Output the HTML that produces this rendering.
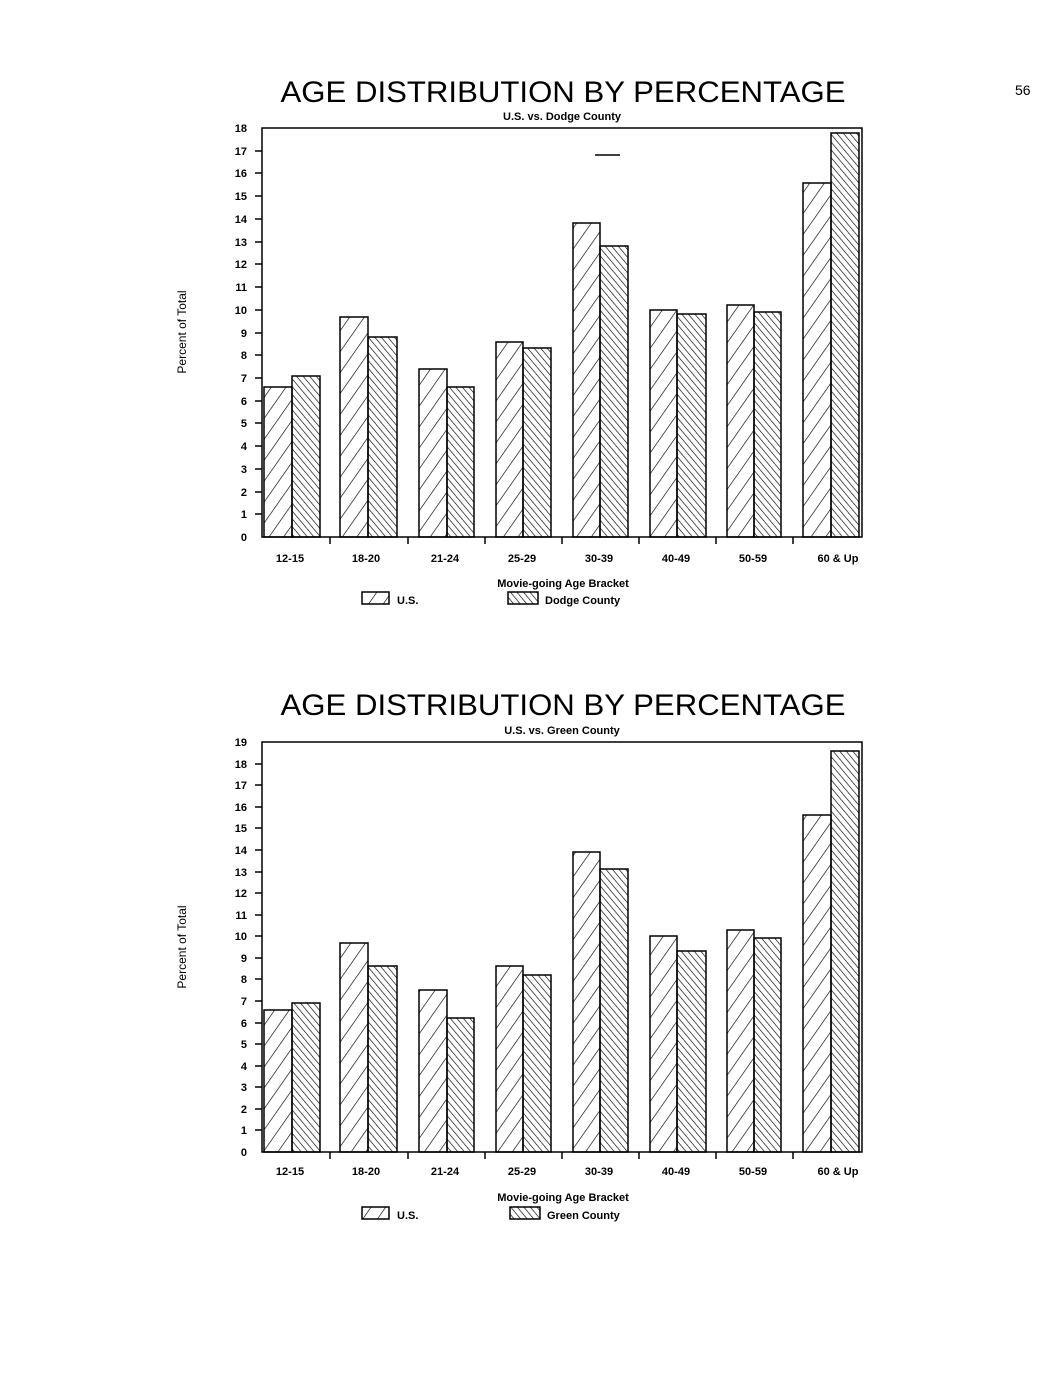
<!DOCTYPE html>
<html><head><meta charset="utf-8"><style>
html,body{margin:0;padding:0;background:#fff;}
svg{display:block;}
text{font-family:"Liberation Sans",sans-serif;fill:#000;}
</style></head><body>
<svg width="1062" height="1380" viewBox="0 0 1062 1380" xmlns="http://www.w3.org/2000/svg">
<defs>
<pattern id="us" patternUnits="userSpaceOnUse" width="9" height="14" patternTransform="skewX(-33)">
<line x1="0" y1="0" x2="0" y2="14" stroke="#000" stroke-width="1.3"/>
</pattern>
<pattern id="us2" patternUnits="userSpaceOnUse" width="12" height="12" patternTransform="rotate(35)">
<line x1="0" y1="0" x2="0" y2="12" stroke="#000" stroke-width="1.3"/>
</pattern>
<pattern id="co" patternUnits="userSpaceOnUse" width="5" height="10" patternTransform="rotate(-40)">
<line x1="0" y1="0" x2="0" y2="10" stroke="#000" stroke-width="1.3"/>
</pattern>
</defs>
<text x="1015" y="95" font-size="14" font-family="DejaVu Sans">56</text>

<!-- Chart 1 -->
<text x="563" y="102" font-size="30" text-anchor="middle" textLength="565" lengthAdjust="spacingAndGlyphs">AGE DISTRIBUTION BY PERCENTAGE</text>
<text x="562" y="120" font-size="11" font-weight="bold" text-anchor="middle">U.S. vs. Dodge County</text>
<rect x="262" y="128" width="600" height="409" fill="none" stroke="#000" stroke-width="1.5"/>
<line x1="595" y1="155" x2="620" y2="155" stroke="#000" stroke-width="1.5"/>
<g font-size="11" text-anchor="end" font-weight="bold">
<text x="247" y="541">0</text><text x="247" y="518">1</text><text x="247" y="496">2</text><text x="247" y="473">3</text><text x="247" y="450">4</text><text x="247" y="427">5</text><text x="247" y="405">6</text><text x="247" y="382">7</text><text x="247" y="359">8</text><text x="247" y="337">9</text><text x="247" y="314">10</text><text x="247" y="291">11</text><text x="247" y="268">12</text><text x="247" y="246">13</text><text x="247" y="223">14</text><text x="247" y="200">15</text><text x="247" y="177">16</text><text x="247" y="155">17</text><text x="247" y="132">18</text>
</g>
<g stroke="#000" stroke-width="1.5">
<line x1="255" y1="514" x2="262" y2="514"/><line x1="255" y1="492" x2="262" y2="492"/><line x1="255" y1="469" x2="262" y2="469"/><line x1="255" y1="446" x2="262" y2="446"/><line x1="255" y1="423" x2="262" y2="423"/><line x1="255" y1="401" x2="262" y2="401"/><line x1="255" y1="378" x2="262" y2="378"/><line x1="255" y1="355" x2="262" y2="355"/><line x1="255" y1="333" x2="262" y2="333"/><line x1="255" y1="310" x2="262" y2="310"/><line x1="255" y1="287" x2="262" y2="287"/><line x1="255" y1="264" x2="262" y2="264"/><line x1="255" y1="242" x2="262" y2="242"/><line x1="255" y1="219" x2="262" y2="219"/><line x1="255" y1="196" x2="262" y2="196"/><line x1="255" y1="173" x2="262" y2="173"/><line x1="255" y1="151" x2="262" y2="151"/>
<line x1="330" y1="537" x2="330" y2="544"/><line x1="408" y1="537" x2="408" y2="544"/><line x1="485" y1="537" x2="485" y2="544"/><line x1="562" y1="537" x2="562" y2="544"/><line x1="639" y1="537" x2="639" y2="544"/><line x1="716" y1="537" x2="716" y2="544"/><line x1="793" y1="537" x2="793" y2="544"/>
</g>
<g stroke="#000" stroke-width="1.5">
<rect x="264" y="387" width="28" height="150" fill="url(#us2)"/><rect x="292" y="376" width="28" height="161" fill="url(#co)"/>
<rect x="340" y="317" width="28" height="220" fill="url(#us2)"/><rect x="368" y="337" width="29" height="200" fill="url(#co)"/>
<rect x="419" y="369" width="28" height="168" fill="url(#us2)"/><rect x="447" y="387" width="27" height="150" fill="url(#co)"/>
<rect x="496" y="342" width="27" height="195" fill="url(#us2)"/><rect x="523" y="348" width="28" height="189" fill="url(#co)"/>
<rect x="573" y="223" width="27" height="314" fill="url(#us2)"/><rect x="600" y="246" width="28" height="291" fill="url(#co)"/>
<rect x="650" y="310" width="27" height="227" fill="url(#us2)"/><rect x="677" y="314" width="29" height="223" fill="url(#co)"/>
<rect x="727" y="305" width="27" height="232" fill="url(#us2)"/><rect x="754" y="312" width="27" height="225" fill="url(#co)"/>
<rect x="803" y="183" width="28" height="354" fill="url(#us2)"/><rect x="831" y="133" width="28" height="404" fill="url(#co)"/>
</g>
<g font-size="11" font-weight="bold" text-anchor="middle">
<text x="290" y="562">12-15</text><text x="366" y="562">18-20</text><text x="445" y="562">21-24</text><text x="522" y="562">25-29</text><text x="599" y="562">30-39</text><text x="676" y="562">40-49</text><text x="753" y="562">50-59</text><text x="838" y="562">60 &amp; Up</text>
</g>
<text x="563" y="587" font-size="11" font-weight="bold" text-anchor="middle">Movie-going Age Bracket</text>
<rect x="362" y="592" width="27" height="12" fill="url(#us2)" stroke="#000" stroke-width="1.5"/>
<text x="397" y="604" font-size="11" font-weight="bold">U.S.</text>
<rect x="508" y="592" width="30" height="12" fill="url(#co)" stroke="#000" stroke-width="1.5"/>
<text x="545" y="604" font-size="11" font-weight="bold">Dodge County</text>
<text transform="translate(186,332) rotate(-90)" font-size="12" text-anchor="middle">Percent of Total</text>

<!-- Chart 2 -->
<text x="563" y="715" font-size="30" text-anchor="middle" textLength="565" lengthAdjust="spacingAndGlyphs">AGE DISTRIBUTION BY PERCENTAGE</text>
<text x="562" y="734" font-size="11" font-weight="bold" text-anchor="middle">U.S. vs. Green County</text>
<rect x="262" y="742" width="600" height="410" fill="none" stroke="#000" stroke-width="1.5"/>
<g font-size="11" text-anchor="end" font-weight="bold">
<text x="247" y="1156">0</text><text x="247" y="1134">1</text><text x="247" y="1113">2</text><text x="247" y="1091">3</text><text x="247" y="1070">4</text><text x="247" y="1048">5</text><text x="247" y="1027">6</text><text x="247" y="1005">7</text><text x="247" y="983">8</text><text x="247" y="962">9</text><text x="247" y="940">10</text><text x="247" y="919">11</text><text x="247" y="897">12</text><text x="247" y="876">13</text><text x="247" y="854">14</text><text x="247" y="832">15</text><text x="247" y="811">16</text><text x="247" y="789">17</text><text x="247" y="768">18</text><text x="247" y="746">19</text>
</g>
<g stroke="#000" stroke-width="1.5">
<line x1="255" y1="1130" x2="262" y2="1130"/><line x1="255" y1="1109" x2="262" y2="1109"/><line x1="255" y1="1087" x2="262" y2="1087"/><line x1="255" y1="1066" x2="262" y2="1066"/><line x1="255" y1="1044" x2="262" y2="1044"/><line x1="255" y1="1023" x2="262" y2="1023"/><line x1="255" y1="1001" x2="262" y2="1001"/><line x1="255" y1="979" x2="262" y2="979"/><line x1="255" y1="958" x2="262" y2="958"/><line x1="255" y1="936" x2="262" y2="936"/><line x1="255" y1="915" x2="262" y2="915"/><line x1="255" y1="893" x2="262" y2="893"/><line x1="255" y1="872" x2="262" y2="872"/><line x1="255" y1="850" x2="262" y2="850"/><line x1="255" y1="828" x2="262" y2="828"/><line x1="255" y1="807" x2="262" y2="807"/><line x1="255" y1="785" x2="262" y2="785"/><line x1="255" y1="764" x2="262" y2="764"/>
<line x1="330" y1="1152" x2="330" y2="1159"/><line x1="408" y1="1152" x2="408" y2="1159"/><line x1="485" y1="1152" x2="485" y2="1159"/><line x1="562" y1="1152" x2="562" y2="1159"/><line x1="639" y1="1152" x2="639" y2="1159"/><line x1="716" y1="1152" x2="716" y2="1159"/><line x1="793" y1="1152" x2="793" y2="1159"/>
</g>
<g stroke="#000" stroke-width="1.5">
<rect x="264" y="1010" width="28" height="142" fill="url(#us2)"/><rect x="292" y="1003" width="28" height="149" fill="url(#co)"/>
<rect x="340" y="943" width="28" height="209" fill="url(#us2)"/><rect x="368" y="966" width="29" height="186" fill="url(#co)"/>
<rect x="419" y="990" width="28" height="162" fill="url(#us2)"/><rect x="447" y="1018" width="27" height="134" fill="url(#co)"/>
<rect x="496" y="966" width="27" height="186" fill="url(#us2)"/><rect x="523" y="975" width="28" height="177" fill="url(#co)"/>
<rect x="573" y="852" width="27" height="300" fill="url(#us2)"/><rect x="600" y="869" width="28" height="283" fill="url(#co)"/>
<rect x="650" y="936" width="27" height="216" fill="url(#us2)"/><rect x="677" y="951" width="29" height="201" fill="url(#co)"/>
<rect x="727" y="930" width="27" height="222" fill="url(#us2)"/><rect x="754" y="938" width="27" height="214" fill="url(#co)"/>
<rect x="803" y="815" width="28" height="337" fill="url(#us2)"/><rect x="831" y="751" width="28" height="401" fill="url(#co)"/>
</g>
<g font-size="11" font-weight="bold" text-anchor="middle">
<text x="290" y="1175">12-15</text><text x="366" y="1175">18-20</text><text x="445" y="1175">21-24</text><text x="522" y="1175">25-29</text><text x="599" y="1175">30-39</text><text x="676" y="1175">40-49</text><text x="753" y="1175">50-59</text><text x="838" y="1175">60 &amp; Up</text>
</g>
<text x="563" y="1201" font-size="11" font-weight="bold" text-anchor="middle">Movie-going Age Bracket</text>
<rect x="362" y="1207" width="27" height="12" fill="url(#us2)" stroke="#000" stroke-width="1.5"/>
<text x="397" y="1219" font-size="11" font-weight="bold">U.S.</text>
<rect x="510" y="1207" width="30" height="12" fill="url(#co)" stroke="#000" stroke-width="1.5"/>
<text x="547" y="1219" font-size="11" font-weight="bold">Green County</text>
<text transform="translate(186,947) rotate(-90)" font-size="12" text-anchor="middle">Percent of Total</text>
</svg>
</body></html>
